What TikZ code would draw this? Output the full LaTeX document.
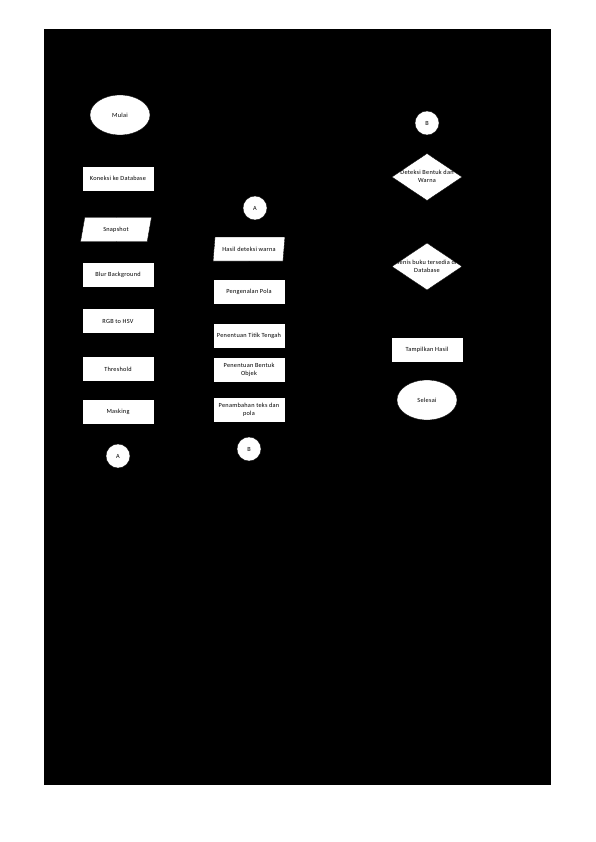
\documentclass[tikz,border=0pt]{standalone}
\usepackage{fontspec}
\setmainfont{Carlito}[LetterSpace=4]
\usetikzlibrary{shapes.geometric,arrows.meta}
\begin{document}
\begin{tikzpicture}[x=1pt,y=-1pt,
  every node/.style={font=\fontsize{6.3}{8}\selectfont, text=black, align=center},
  procbox/.style={rectangle, fill=white, draw=black, line width=0.3pt, minimum width=72pt, minimum height=25pt, inner sep=1pt},
  iobox/.style={trapezium, trapezium left angle=76, trapezium right angle=104, trapezium stretches=true, fill=white, draw=black, line width=0.3pt, minimum width=71pt, minimum height=24pt, inner sep=1pt},
  termbox/.style={ellipse, fill=white, draw=black, line width=0.3pt, minimum width=60pt, minimum height=40pt, inner sep=0pt},
  connbox/.style={circle, fill=white, draw=black, line width=0.3pt, minimum size=24pt, inner sep=0pt},
  decbox/.style={diamond, fill=white, draw=black, line width=0.3pt, minimum width=70pt, minimum height=47pt, inner sep=0pt, aspect=1.5},
  flow/.style={draw=black, line width=0.5pt, -{Stealth[length=3pt]}}]
\useasboundingbox (0,0) rectangle (596,842);
\fill[black] (44,29) rectangle (551,785);
% column 1
\node[termbox] (mulai) at (120,115) {Mulai};
\node[procbox] (koneksi) at (118,178.5) {Koneksi ke Database};
\node[iobox] (snap) at (116,229.5) {Snapshot};
\node[procbox] (blur) at (118,275) {Blur Background};
\node[procbox] (rgb) at (118,321) {RGB to HSV};
\node[procbox] (thr) at (118,369) {Threshold};
\node[procbox] (mask) at (118,412) {Masking};
\node[connbox] (a1) at (118,456) {A};
% column 2
\node[connbox] (a2) at (255,208) {A};
\node[iobox, minimum width=72pt] (hasil) at (249,249) {Hasil deteksi warna};
\node[procbox] (pola) at (249,292) {Pengenalan Pola};
\node[procbox] (titik) at (249,336) {Penentuan Titik Tengah};
\node[procbox] (bentuk) at (249,370) {Penentuan Bentuk\\Objek};
\node[procbox] (tambah) at (249,410) {Penambahan teks dan\\pola};
\node[connbox] (b1) at (249,449) {B};
% column 3
\node[connbox] (b2) at (427,123) {B};
\node[decbox] (deteksi) at (427,177) {\makebox[0pt]{\begin{tabular}{@{}c@{}}Deteksi Bentuk dan\\Warna\end{tabular}}};
\node[decbox] (jenis) at (427,266.5) {\makebox[0pt]{\begin{tabular}{@{}c@{}}Jenis buku tersedia di\\Database\end{tabular}}};
\node[procbox] (tampil) at (427,350) {Tampilkan Hasil};
\node[termbox] (selesai) at (427,400) {Selesai};
% connectors (black on black, as in the reference)
\draw[flow] (mulai) -- (koneksi);
\draw[flow] (koneksi) -- (snap);
\draw[flow] (snap) -- (blur);
\draw[flow] (blur) -- (rgb);
\draw[flow] (rgb) -- (thr);
\draw[flow] (thr) -- (mask);
\draw[flow] (mask) -- (a1);
\draw[flow] (a2) -- (hasil);
\draw[flow] (hasil) -- (pola);
\draw[flow] (pola) -- (titik);
\draw[flow] (titik) -- (bentuk);
\draw[flow] (bentuk) -- (tambah);
\draw[flow] (tambah) -- (b1);
\draw[flow] (b2) -- (deteksi);
\draw[flow] (deteksi) -- (jenis);
\draw[flow] (jenis) -- (tampil);
\draw[flow] (tampil) -- (selesai);
\end{tikzpicture}
\end{document}
